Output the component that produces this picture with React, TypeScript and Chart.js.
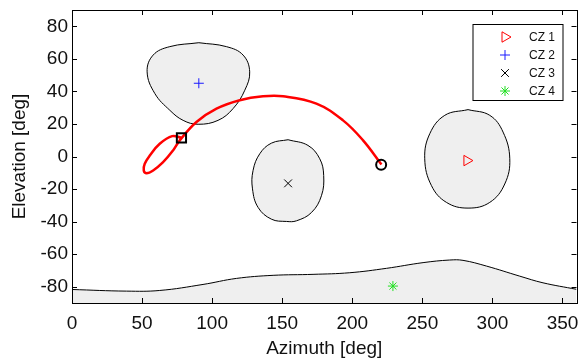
import React, { useEffect, useRef } from 'react';
import { Chart, registerables } from 'chart.js';
import { drawPoint } from 'chart.js/helpers';

Chart.register(...registerables);

// ---- Data (azimuth / elevation in degrees) ----
const cz1Az = [282.6, 298.1, 307.6, 312.4, 308.8, 298.1, 282.6, 267.2, 256.5, 251.7, 255.3, 266.0, 282.6];
const cz1El = [28.8, 25.3, 15.0, -1.4, -16.9, -28.2, -31.7, -28.2, -17.9, -1.4, 14.0, 25.3, 28.8];

const cz2Az = [90.5, 110.2, 122.1, 126.8, 123.3, 114.9, 104.2, 90.0, 79.3, 69.8, 59.1, 53.6, 57.9, 69.8, 90.5];
const cz2El = [69.9, 67.5, 62.3, 52.0, 40.7, 29.4, 22.2, 19.8, 22.2, 28.4, 38.7, 52.0, 62.3, 67.5, 69.9];

const cz3Az = [154.2, 168.4, 176.8, 179.6, 178.0, 170.9, 160.2, 153.0, 142.3, 132.8, 128.8, 129.2, 134.0, 142.3, 154.2];
const cz3El = [10.3, 6.8, -1.4, -11.7, -24.1, -34.4, -39.5, -39.9, -38.5, -31.3, -19.9, -8.6, 1.7, 8.2, 10.3];

const cz4Az = [0, 38.9, 62.6, 93.5, 117.3, 143.5, 172.0, 198.2, 224.4, 250.5, 269.5, 279.0, 295.7, 319.5, 336.1, 360];
const cz4El = [-81.7, -82.7, -82.3, -78.6, -74.9, -73.0, -72.4, -71.4, -68.7, -65.2, -63.6, -63.8, -67.3, -73.5, -77.6, -81.6];

const trajAz = [78.1, 71.5, 62.6, 55.5, 51.9, 51.2, 53.2, 57.9, 65.0, 72.1, 76.9, 88.8, 103.1, 119.7, 136.3, 150.6, 174.4, 193.4, 207.7, 220.8];
const trajEl = [11.5, 12.5, 7.8, 0.6, -4.5, -8.6, -10.3, -8.6, -3.5, 3.7, 9.9, 21.2, 29.4, 34.6, 37.0, 37.0, 32.5, 22.2, 9.9, -4.9];

const startPoint = { az: 78.1, el: 11.5 };
const endPoint = { az: 220.6, el: -5.0 };

const centerAz = [281.8, 90.5, 154.2, 229.0];
const centerEl = [-2.5, 45.0, -16.5, -79.6];

const legendLabels = ['CZ 1', 'CZ 2', 'CZ 3', 'CZ 4'];
const markerColors = ['#ff0000', '#1a1aff', '#000000', '#22e022'];
const markerStyles = ['triangle', 'cross', 'crossRot', 'star'];
const markerRotations = [90, 0, 0, 0];
const markerRadii = [6, 5, 5.5, 5];

const xTicks = [0, 50, 100, 150, 200, 250, 300, 350];
const yTicks = [-80, -60, -40, -20, 0, 20, 40, 60, 80];

const FONT = '"Liberation Sans", Arial, Helvetica, sans-serif';
const REGION_FILL = '#efefef';
const TICK_SIZE = 19;
const TITLE_SIZE = 19;

const toPts = (xs: number[], ys: number[]) => xs.map((x, i) => ({ x, y: ys[i] }));

const framePlugin = {
  id: 'frameAndLegend',
  afterDatasetsDraw(chart: any) {
    const { ctx, chartArea: a, scales } = chart;
    const tl = 5;
    ctx.save();
    ctx.strokeStyle = '#000';
    ctx.lineWidth = 1;
    ctx.beginPath();
    scales.x.ticks.forEach((t: any) => {
      const px = Math.round(scales.x.getPixelForValue(t.value)) + 0.5;
      ctx.moveTo(px, a.bottom);
      ctx.lineTo(px, a.bottom - tl);
      ctx.moveTo(px, a.top);
      ctx.lineTo(px, a.top + tl);
    });
    scales.y.ticks.forEach((t: any) => {
      const py = Math.round(scales.y.getPixelForValue(t.value)) + 0.5;
      ctx.moveTo(a.left, py);
      ctx.lineTo(a.left + tl, py);
      ctx.moveTo(a.right, py);
      ctx.lineTo(a.right - tl, py);
    });
    ctx.stroke();
    ctx.strokeRect(Math.round(a.left) + 0.5, Math.round(a.top) + 0.5, Math.round(a.right - a.left), Math.round(a.bottom - a.top));

    // legend box (inside top-right of plot)
    const bx = a.right - 103.5;
    const by = a.top + 14.5;
    const bw = 90;
    const bh = 76;
    ctx.fillStyle = '#ffffff';
    ctx.fillRect(bx, by, bw, bh);
    ctx.strokeRect(bx, by, bw, bh);
    ctx.font = `12px ${FONT}`;
    ctx.textBaseline = 'middle';
    ctx.textAlign = 'left';
    legendLabels.forEach((lab, i) => {
      const y = by + 12.5 + i * 18;
      ctx.strokeStyle = markerColors[i];
      ctx.fillStyle = 'rgba(0,0,0,0)';
      ctx.lineWidth = 1;
      drawPoint(ctx, { pointStyle: markerStyles[i], rotation: markerRotations[i], radius: markerRadii[i], borderWidth: 1 }, bx + 32, y);
      ctx.fillStyle = '#111';
      ctx.fillText(lab, bx + 56, y + 0.5);
    });
    ctx.restore();
  },
};

export default function App() {
  const ref = useRef<HTMLCanvasElement>(null);
  useEffect(() => {
    if (!ref.current) return;
    const region = (xs: number[], ys: number[], fill: any) => ({
      data: toPts(xs, ys),
      showLine: true,
      fill,
      backgroundColor: REGION_FILL,
      borderColor: '#000',
      borderWidth: 1,
      pointRadius: 0,
      tension: 0.4,
      order: 10,
    });
    const marker = (i: number) => ({
      data: [{ x: centerAz[i], y: centerEl[i] }],
      showLine: false,
      pointStyle: markerStyles[i],
      pointRotation: markerRotations[i],
      pointRadius: markerRadii[i],
      pointBorderColor: markerColors[i],
      pointBackgroundColor: 'rgba(0,0,0,0)',
      pointBorderWidth: 1,
      order: 1,
    });
    const chart = new Chart(ref.current, {
      type: 'scatter',
      data: {
        datasets: [
          region(cz1Az, cz1El, 'shape'),
          region(cz2Az, cz2El, 'shape'),
          region(cz3Az, cz3El, 'shape'),
          region(cz4Az, cz4El, 'start'),
          {
            data: toPts(trajAz, trajEl),
            showLine: true,
            fill: false,
            borderColor: '#ff0000',
            borderWidth: 2.5,
            pointRadius: 0,
            tension: 0.4,
            order: 5,
          },
          {
            data: [{ x: startPoint.az, y: startPoint.el }],
            pointStyle: 'rect',
            pointRadius: 6.5,
            pointBorderColor: '#000',
            pointBackgroundColor: 'rgba(0,0,0,0)',
            pointBorderWidth: 2,
            order: 2,
          },
          {
            data: [{ x: endPoint.az, y: endPoint.el }],
            pointStyle: 'circle',
            pointRadius: 5,
            pointBorderColor: '#000',
            pointBackgroundColor: 'rgba(0,0,0,0)',
            pointBorderWidth: 2,
            order: 2,
          },
          marker(0),
          marker(1),
          marker(2),
          marker(3),
        ] as any,
      },
      options: {
        animation: false,
        responsive: true,
        maintainAspectRatio: false,
        layout: { padding: { top: 10, right: 7, left: 0, bottom: 0 } },
        plugins: { legend: { display: false }, tooltip: { enabled: false } },
        scales: {
          x: {
            type: 'linear',
            min: 0,
            max: 360,
            ticks: { padding: 9, color: '#111', font: { family: FONT, size: TICK_SIZE }, maxRotation: 0, autoSkip: false },
            grid: { display: false, drawTicks: false },
            border: { display: false },
            title: { display: true, text: 'Azimuth [deg]', color: '#111', font: { family: FONT, size: TITLE_SIZE, lineHeight: 1 }, padding: 0 },
            afterBuildTicks: (s: any) => { s.ticks = xTicks.map((v) => ({ value: v })); },
            afterFit: (s: any) => { s.height = 55; s.paddingLeft = 0; s.paddingRight = 0; },
          },
          y: {
            type: 'linear',
            min: -90,
            max: 90,
            ticks: { padding: 4, color: '#111', font: { family: FONT, size: TICK_SIZE }, autoSkip: false },
            grid: { display: false, drawTicks: false },
            border: { display: false },
            title: { display: true, text: 'Elevation [deg]', color: '#111', font: { family: FONT, size: TITLE_SIZE, lineHeight: 1 }, padding: { top: 10.5, bottom: 0 } },
            afterBuildTicks: (s: any) => { s.ticks = yTicks.map((v) => ({ value: v })); },
            afterFit: (s: any) => { s.width = 72; s.paddingTop = 0; s.paddingBottom = 0; },
          },
        },
      } as any,
      plugins: [framePlugin],
    });
    return () => chart.destroy();
  }, []);
  return (
    <div style={{ position: 'absolute', left: 0, top: 0, width: 585, height: 358, background: '#fff' }}>
      <canvas ref={ref} />
    </div>
  );
}
